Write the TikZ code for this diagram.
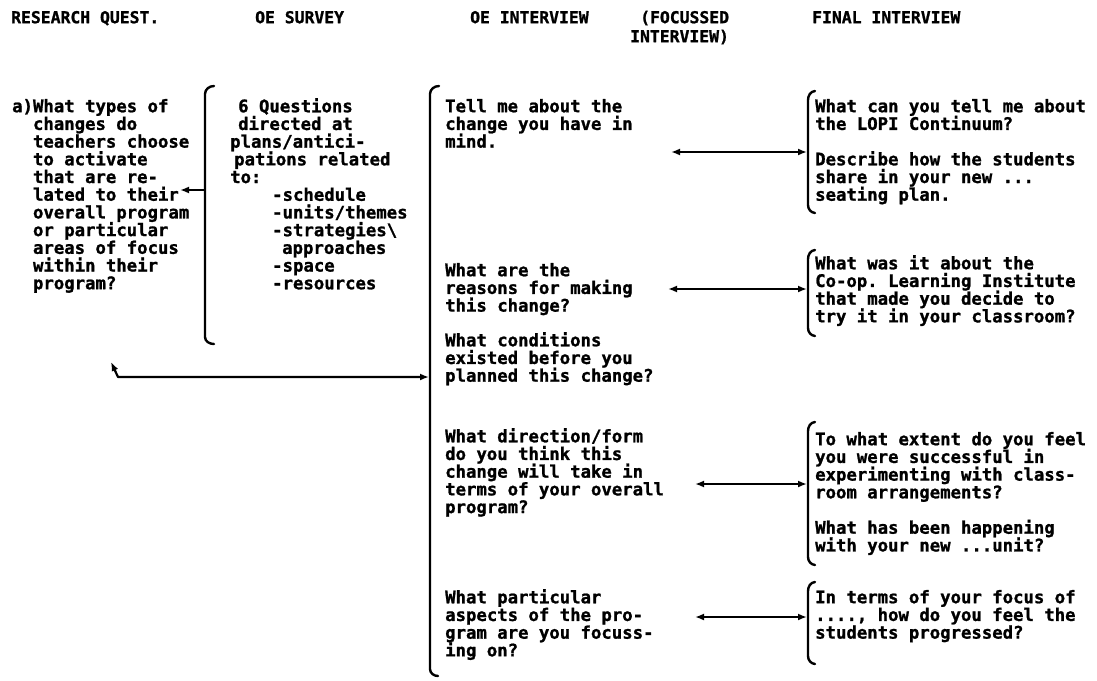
\documentclass[tikz,border=0pt]{standalone}
\usepackage{fontspec}
\setmonofont[BoldFeatures={FakeBold=1.2}]{DejaVu Sans Mono}
\usetikzlibrary{arrows.meta}
% first-line strut so every block's top edge sits a fixed distance above its first baseline
\newcommand\firstln{\rule{0pt}{14pt}}
\begin{document}
\begin{tikzpicture}[x=1pt,y=-1pt,
  txt/.style={font=\ttfamily\bfseries\fontsize{17.3}{17.7}\selectfont,
              align=left, anchor=north west, inner sep=0pt},
  head/.style={txt, font=\ttfamily\bfseries\fontsize{16.4}{19}\selectfont},
  brk/.style={line width=2.4pt, line cap=round, line join=round},
  tip/.style={line width=2.2pt, -{Latex[length=9pt,width=7pt]}},
  both/.style={line width=2.2pt, {Latex[length=9pt,width=7pt]}-{Latex[length=9pt,width=7pt]}}]
\useasboundingbox (0,0) rectangle (1097,680);
\fill[white] (0,0) rectangle (1097,680);

% column headings
\node[head] (h1) at (11,9)  {\firstln RESEARCH QUEST.};
\node[head] (h2) at (255,9) {\firstln OE SURVEY};
\node[head] (h3) at (470,9) {\firstln OE INTERVIEW};
\node[head] (h4) at (630,9) {\firstln\hspace*{10pt}(FOCUSSED\\INTERVIEW)};
\node[head] (h5) at (812,9) {\firstln FINAL INTERVIEW};

% research question
\node[txt] (rq) at (12,98) {\firstln a)What types of\\
\hphantom{a)}changes do\\
\hphantom{a)}teachers choose\\
\hphantom{a)}to activate\\
\hphantom{a)}that are re-\\
\hphantom{a)}lated to their\\
\hphantom{a)}overall program\\
\hphantom{a)}or particular\\
\hphantom{a)}areas of focus\\
\hphantom{a)}within their\\
\hphantom{a)}program?};

% survey items
\node[txt] (sv) at (230,98) {\firstln\hspace*{8pt}6 Questions\\
\hspace*{8pt}directed at\\
plans/antici-\\
\hspace*{4pt}pations related\\
to:\\
\hspace*{42pt}-schedule\\
\hspace*{42pt}-units/themes\\
\hspace*{42pt}-strategies\textbackslash\\
\hspace*{52pt}approaches\\
\hspace*{42pt}-space\\
\hspace*{42pt}-resources};

% focussed interview questions
\node[txt] (fa) at (445,98)  {\firstln Tell me about the\\change you have in\\mind.};
\node[txt] (fb) at (445,262) {\firstln What are the\\reasons for making\\this change?};
\node[txt] (fc) at (445,332) {\firstln What conditions\\existed before you\\planned this change?};
\node[txt] (fd) at (445,428) {\firstln What direction/form\\do you think this\\change will take in\\terms of your overall\\program?};
\node[txt] (fe) at (445,589) {\firstln What particular\\aspects of the pro-\\gram are you focuss-\\ing on?};

% final interview questions
\node[txt] (ga) at (815,98)  {\firstln What can you tell me about\\the LOPI Continuum?\\[17.7pt]Describe how the students\\share in your new ...\\seating plan.};
\node[txt] (gb) at (815,255) {\firstln What was it about the\\Co-op. Learning Institute\\that made you decide to\\try it in your classroom?};
\node[txt] (gc) at (815,431) {\firstln To what extent do you feel\\you were successful in\\experimenting with class-\\room arrangements?\\[17.7pt]What has been happening\\with your new ...unit?};
\node[txt] (gd) at (815,589) {\firstln In terms of your focus of\\...., how do you feel the\\students progressed?};

% brackets
\draw[brk] (214,86) to[out=180,in=90] (205,94) -- (205,337) to[out=-90,in=180] (214,344);
\draw[brk] (439,86) to[out=180,in=90] (430,94) -- (430,669) to[out=-90,in=180] (438,676);
\draw[brk] (815,91)  to[out=185,in=90] (808,100) -- (808,205) to[out=-90,in=175] (815,213);
\draw[brk] (815,250) to[out=185,in=90] (808,259) -- (808,328) to[out=-90,in=175] (815,336);
\draw[brk] (815,422) to[out=185,in=90] (808,431) -- (808,557) to[out=-90,in=175] (815,565);
\draw[brk] (815,582) to[out=185,in=90] (808,591) -- (808,656) to[out=-90,in=175] (815,664);

% connector end points
\coordinate (svL) at (205,190);
\coordinate (rqR) at (180,190);
\coordinate (rqB) at (111,362);
\coordinate (bend) at (118,377);
\coordinate (ivL) at (429,377);
\coordinate (a1L) at (671,152); \coordinate (a1R) at (807,152);
\coordinate (a2L) at (668,289); \coordinate (a2R) at (807,289);
\coordinate (a3L) at (695,484); \coordinate (a3R) at (807,484);
\coordinate (a4L) at (695,617); \coordinate (a4R) at (807,617);

% connectors
\draw[tip] (svL) -- (rqR);
\draw[both, line join=round] (rqB) -- (bend) -- (ivL);
\draw[both] (a1L) -- (a1R);
\draw[both] (a2L) -- (a2R);
\draw[both] (a3L) -- (a3R);
\draw[both] (a4L) -- (a4R);
\end{tikzpicture}
\end{document}
